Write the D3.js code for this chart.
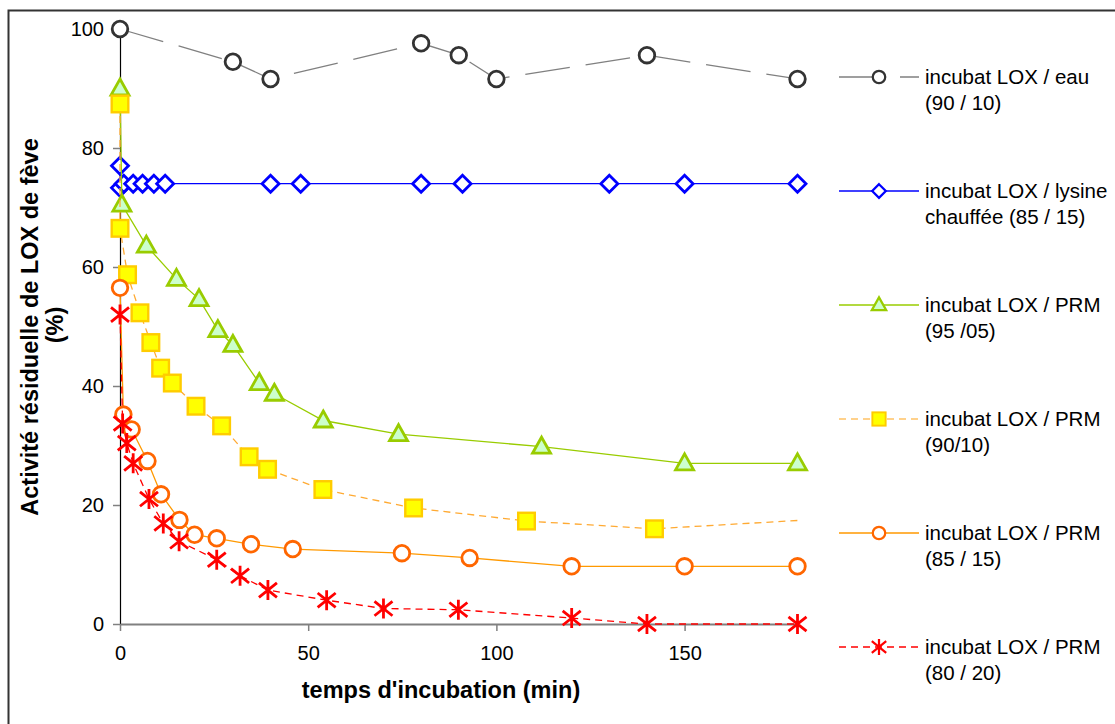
<!DOCTYPE html>
<html><head><meta charset="utf-8">
<script src="https://cdn.jsdelivr.net/npm/d3@7"></script>
<style>
body{margin:0;background:#fff}
svg{display:block}
text{font-family:"Liberation Sans",Arial,sans-serif;fill:#000}
</style>
</head><body>
<svg id="chart" width="1115" height="724"></svg>
<script>
// ---- data ----
const eauT = [0, 30, 40, 80, 90, 100, 140, 180];
const eauV = [100, 94.5, 91.6, 97.6, 95.6, 91.6, 95.6, 91.6];

const lysT = [0, 0, 1, 3.5, 6, 9, 12, 40, 48, 80, 91, 130, 150, 180];
const lysV = [77, 73.3, 74, 74, 74, 74, 74, 74, 74, 74, 74, 74, 74, 74];

const prm95T = [0, 0.5, 7, 15, 21, 26, 30, 37, 41, 54, 74, 112, 150, 180];
const prm95V = [90, 70.5, 63.6, 58, 54.6, 49.4, 46.9, 40.5, 38.7, 34.2, 31.9, 29.8, 27, 27];

const prm90T = [0, 0, 2, 5.3, 8.2, 10.8, 13.9, 20.2, 27, 34.3, 39.2, 53.9, 78, 108, 142, 180];
const prm90V = [87.4, 66.5, 58.7, 52.3, 47.3, 43, 40.5, 36.6, 33.3, 28.1, 26, 22.6, 19.5, 17.3, 16, 17.4];
const prm90Marked = [true, true, true, true, true, true, true, true, true, true, true, true, true, true, true, false];

const prm85T = [0, 0.9, 3.1, 7.3, 10.9, 15.8, 19.8, 25.7, 34.8, 45.9, 74.9, 92.9, 120, 150, 180];
const prm85V = [56.5, 35.2, 32.7, 27.4, 21.8, 17.5, 15, 14.4, 13.4, 12.6, 11.9, 11.1, 9.7, 9.7, 9.7];

const prm80T = [0, 0.7, 1.8, 3.5, 7.7, 11.5, 15.7, 25.7, 31.9, 39.3, 54.9, 70, 89.9, 120, 140, 180];
const prm80V = [52, 33.7, 30.4, 27, 21, 16.9, 13.9, 10.8, 8.1, 5.7, 4, 2.6, 2.4, 1, 0, 0];

const seriesLabels = [
  ["incubat LOX / eau", "(90 / 10)"],
  ["incubat LOX / lysine", "chauffée (85 / 15)"],
  ["incubat LOX / PRM", "(95 /05)"],
  ["incubat LOX / PRM", "(90/10)"],
  ["incubat LOX / PRM", "(85 / 15)"],
  ["incubat LOX / PRM", "(80 / 20)"]
];
const xTicks = [0, 50, 100, 150];
const yTicks = [0, 20, 40, 60, 80, 100];
const xTitle = "temps d'incubation (min)";
const yTitle = ["Activité résiduelle de LOX de fève", "(%)"];

// ---- styles ----
const styles = [
  {line:"#808080", dash:"45,16", marker:"circle", stroke:"#333333", fill:"#ffffff"},
  {line:"#0000ff", dash:null, marker:"diamond", stroke:"#0000ff", fill:"#ffffff"},
  {line:"#99cc00", dash:null, marker:"triangle", stroke:"#99cc00", fill:"#ccffcc"},
  {line:"#ffaa33", dash:"7,5", marker:"square", stroke:"#ffcc00", fill:"#ffff00", legendLine:"#ffc266"},
  {line:"#ff9900", dash:null, marker:"circle", stroke:"#ff6600", fill:"#ffffff"},
  {line:"#ff0000", dash:"7,5", marker:"star", stroke:"#ff0000", fill:"none"}
];

const series = [
  {t:eauT, v:eauV},
  {t:lysT, v:lysV},
  {t:prm95T, v:prm95V},
  {t:prm90T, v:prm90V, marked:prm90Marked},
  {t:prm85T, v:prm85V},
  {t:prm80T, v:prm80V}
];

const svg = d3.select("#chart");
const x = d3.scaleLinear().domain([0, 180]).range([120, 797.5]);
const y = d3.scaleLinear().domain([0, 100]).range([624, 29]);

// outer frame
svg.append("rect").attr("x", 8.5).attr("y", 10.5).attr("width", 1130).attr("height", 740)
  .attr("fill", "none").attr("stroke", "#333").attr("stroke-width", 2);

// axes
const yAxis = svg.append("g").attr("transform", "translate(120,0)")
  .call(d3.axisLeft(y).tickValues(yTicks).tickSize(7).tickSizeOuter(0).tickPadding(9).tickFormat(d3.format("d")));
yAxis.select(".domain").attr("stroke", "#000").attr("stroke-width", 1.2);
yAxis.selectAll(".tick line").attr("stroke", "#808080").attr("stroke-width", 1.5);
yAxis.selectAll(".tick text").attr("font-size", 20).attr("font-family", "'Liberation Sans',Arial,sans-serif").attr("fill", "#000");

const xAxis = svg.append("g").attr("transform", "translate(0,624)")
  .call(d3.axisBottom(x).tickValues(xTicks).tickSize(7).tickSizeOuter(0).tickPadding(15).tickFormat(d3.format("d")));
xAxis.select(".domain").attr("stroke", "#808080").attr("stroke-width", 2);
xAxis.selectAll(".tick line").attr("stroke", "#808080").attr("stroke-width", 1.5);
xAxis.selectAll(".tick text").attr("font-size", 20).attr("font-family", "'Liberation Sans',Arial,sans-serif").attr("fill", "#000");

// titles
svg.append("text").attr("x", 441).attr("y", 698).attr("text-anchor", "middle")
  .attr("font-size", 23.5).attr("font-weight", "bold").text(xTitle);
svg.append("text").attr("transform", "translate(38,327) rotate(-90)").attr("text-anchor", "middle")
  .attr("font-size", 23.5).attr("font-weight", "bold").text(yTitle[0]);
svg.append("text").attr("transform", "translate(63,325) rotate(-90)").attr("text-anchor", "middle")
  .attr("font-size", 23.5).attr("font-weight", "bold").text(yTitle[1]);

// marker drawing
function drawMarker(g, type, cx, cy, st, s) {
  s = s || 1;
  if (type === "circle") {
    g.append("circle").attr("cx", cx).attr("cy", cy).attr("r", 7.8 * s)
      .attr("fill", st.fill).attr("stroke", st.stroke).attr("stroke-width", 2.8 * s);
  } else if (type === "diamond") {
    const h = 8.5 * s;
    g.append("path").attr("d", `M${cx},${cy-h}L${cx+h},${cy}L${cx},${cy+h}L${cx-h},${cy}Z`)
      .attr("fill", st.fill).attr("stroke", st.stroke).attr("stroke-width", 2.8 * s);
  } else if (type === "triangle") {
    const w = 9 * s;
    g.append("path").attr("d", `M${cx},${cy-9.5*s}L${cx+w},${cy+6.5*s}L${cx-w},${cy+6.5*s}Z`)
      .attr("fill", st.fill).attr("stroke", st.stroke).attr("stroke-width", 2.8 * s).attr("stroke-linejoin", "miter");
  } else if (type === "square") {
    const h = 8.3 * s;
    g.append("rect").attr("x", cx - h).attr("y", cy - h).attr("width", 2 * h).attr("height", 2 * h)
      .attr("fill", st.fill).attr("stroke", st.stroke).attr("stroke-width", 2.4 * s);
  } else if (type === "star") {
    const a = 10 * s, b = 9 * s;
    g.append("path").attr("d",
      `M${cx},${cy-a}L${cx},${cy+a}M${cx-b},${cy-b*0.8}L${cx+b},${cy+b*0.8}M${cx+b},${cy-b*0.8}L${cx-b},${cy+b*0.8}`)
      .attr("fill", "none").attr("stroke", st.stroke).attr("stroke-width", 2.8 * s);
  }
}

const line = d3.line().x(d => x(d[0])).y(d => y(d[1]));

series.forEach((s, i) => {
  const st = styles[i];
  const pts = s.t.map((t, j) => [t, s.v[j], s.marked ? s.marked[j] : true]);
  const g = svg.append("g");
  const p = g.append("path").datum(pts).attr("d", line)
    .attr("fill", "none").attr("stroke", st.line).attr("stroke-width", 1.3);
  if (st.dash) p.attr("stroke-dasharray", st.dash);
  pts.forEach(d => { if (d[2]) drawMarker(g, st.marker, x(d[0]), y(d[1]), st, 1); });
});

// legend
seriesLabels.forEach((lab, i) => {
  const st = styles[i];
  const y0 = 77 + 114 * i;
  const g = svg.append("g");
  const l = g.append("line").attr("x1", 839).attr("x2", 919).attr("y1", y0).attr("y2", y0)
    .attr("stroke", st.legendLine || st.line).attr("stroke-width", 1.5);
  if (st.dash) l.attr("stroke-dasharray", st.dash);
  drawMarker(g, st.marker, 879, y0, st, 0.8);
  g.append("text").attr("x", 925).attr("y", y0 + 7).attr("font-size", 20.5).text(lab[0]);
  g.append("text").attr("x", 925).attr("y", y0 + 33).attr("font-size", 20.5).text(lab[1]);
});
</script>
</body></html>
